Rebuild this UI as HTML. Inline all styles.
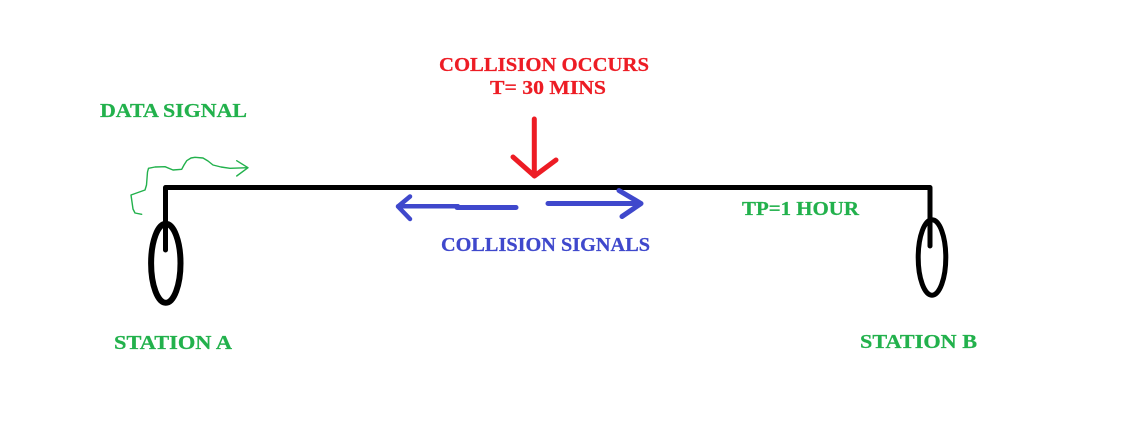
<!DOCTYPE html>
<html>
<head>
<meta charset="utf-8">
<style>
html,body{margin:0;padding:0;background:#fff;}
svg{display:block;}
text{font-family:"Liberation Serif",serif;font-weight:bold;font-size:19.5px;stroke-width:0.25px;}
.g{fill:#22b14c;stroke:#22b14c;}
.r{fill:#ed1c24;stroke:#ed1c24;}
.b{fill:#3f48cc;stroke:#3f48cc;}
</style>
</head>
<body>
<svg width="1123" height="428" viewBox="0 0 1123 428" xmlns="http://www.w3.org/2000/svg">
<rect width="1123" height="428" fill="#fff"/>
<!-- bus -->
<path d="M165.500 250V187.500H930V246" fill="none" stroke="#000" stroke-width="5" stroke-linejoin="round" stroke-linecap="round"/>
<!-- stations -->
<ellipse cx="165.800" cy="263.300" rx="14.700" ry="39.500" fill="none" stroke="#000" stroke-width="6"/>
<ellipse cx="932" cy="257.500" rx="13.800" ry="37.700" fill="none" stroke="#000" stroke-width="5"/>
<!-- red arrow -->
<path d="M534.300 119V176M513 157L534.500 176L556 160" fill="none" stroke="#ed1c24" stroke-width="5" stroke-linecap="round" stroke-linejoin="round"/>
<!-- blue arrows -->
<path d="M516 207.500H457" fill="none" stroke="#3f48cc" stroke-width="5" stroke-linecap="round"/>
<path d="M458 206.300H398M410 196.500L398 206.500L410 219" fill="none" stroke="#3f48cc" stroke-width="4.500" stroke-linecap="round" stroke-linejoin="round"/>
<path d="M548 203.500H641M619 190.500L641 203.500L622 216.500" fill="none" stroke="#3f48cc" stroke-width="5" stroke-linecap="round" stroke-linejoin="round"/>
<!-- data signal squiggle -->
<path d="M141.700 214.300L135 213L133 209L131 195L145 190L146.500 185L147.500 172L148.500 168.300L155 167L165 166.700L173 170L181.700 169.300L184 165L186.700 160.700L191 158L195 157.300L203 158L208 161L213 165L221 167L230 168.300L248 167.700M236.700 160.700L248 167.700L236.700 176" fill="none" stroke="#22b14c" stroke-width="1.400" stroke-linejoin="round" stroke-linecap="round"/>
<!-- labels -->
<text class="r" x="439" y="71" textLength="210" lengthAdjust="spacingAndGlyphs">COLLISION OCCURS</text>
<text class="r" x="490" y="94" textLength="116" lengthAdjust="spacingAndGlyphs">T= 30 MINS</text>
<text class="g" x="100" y="117" textLength="147" lengthAdjust="spacingAndGlyphs">DATA SIGNAL</text>
<text class="g" x="742" y="215" textLength="117" lengthAdjust="spacingAndGlyphs">TP=1 HOUR</text>
<text class="b" x="441" y="251" textLength="209" lengthAdjust="spacingAndGlyphs">COLLISION SIGNALS</text>
<text class="g" x="114" y="349" textLength="118" lengthAdjust="spacingAndGlyphs">STATION A</text>
<text class="g" x="860" y="348" textLength="117" lengthAdjust="spacingAndGlyphs">STATION B</text>
</svg>
</body>
</html>
